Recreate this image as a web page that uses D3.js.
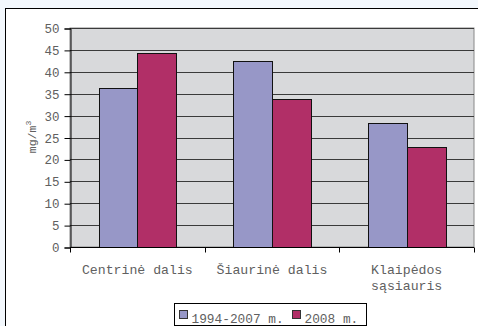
<!DOCTYPE html>
<html>
<head>
<meta charset="utf-8">
<script src="https://cdn.jsdelivr.net/npm/d3@7"></script>
<style>
  html, body { margin: 0; padding: 0; background: #f3f8fd; }
  svg { display: block; }
</style>
</head>
<body>
<script>
// Average concentrations (mg/m³) by lagoon part
const categories = [["Centrinė dalis"], ["Šiaurinė dalis"], ["Klaipėdos", "sąsiauris"]];
const seriesNames = ["1994-2007 m.", "2008 m."];
const values1994_2007 = [36.4, 42.4, 28.3];
const values2008 = [44.2, 33.9, 22.8];
const yTicks = [0, 5, 10, 15, 20, 25, 30, 35, 40, 45, 50];
const colors = ["#9797c7", "#b12f67"];

const MONO = "\"Liberation Mono\", \"Courier New\", \"DejaVu Sans Mono\", monospace";
const TEXT = "#606060";
const W = 478, H = 326;
const svg = d3.select("body").append("svg").attr("width", W).attr("height", H);

// white chart frame
svg.append("rect").attr("x", 5.5).attr("y", 8.5).attr("width", W + 10).attr("height", H + 10)
  .attr("fill", "#fff").attr("stroke", "#000").attr("stroke-width", 1);

const plot = { left: 70, right: 474, top: 28, bottom: 247 };

const x = d3.scaleBand().domain(d3.range(categories.length))
  .range([plot.left, plot.right]).paddingInner(0).paddingOuter(0);
const y = d3.scaleLinear().domain([0, 50]).range([plot.bottom, plot.top]);
const barW = x.bandwidth() * 0.288;
const sub = d3.scaleBand().domain([0, 1]).range([x.bandwidth() / 2 - barW, x.bandwidth() / 2 + barW]);

// plot background
svg.append("rect").attr("x", plot.left).attr("y", plot.top)
  .attr("width", plot.right - plot.left).attr("height", plot.bottom - plot.top)
  .attr("fill", "#d8d9db").attr("stroke", "#888").attr("stroke-width", 1);

// horizontal gridlines
svg.append("g").selectAll("line").data(yTicks.filter(d => d > 0)).join("line")
  .attr("x1", plot.left).attr("x2", plot.right)
  .attr("y1", d => Math.round(y(d)) + 0.5).attr("y2", d => Math.round(y(d)) + 0.5)
  .attr("stroke", "#3a3a3a").attr("stroke-width", 1);

// bars
const series = [values1994_2007, values2008];
series.forEach((vals, si) => {
  svg.append("g").selectAll("rect").data(vals).join("rect")
    .attr("x", (d, i) => Math.round(x(i) + sub(si)) + 0.5)
    .attr("y", d => Math.round(y(d)) + 0.5)
    .attr("width", Math.round(sub.bandwidth()))
    .attr("height", d => Math.round(y(0)) - Math.round(y(d)))
    .attr("fill", colors[si]).attr("stroke", "#111").attr("stroke-width", 1);
});

// y axis
const yAxis = d3.axisLeft(y).tickValues(yTicks).tickSize(6).tickPadding(5).tickFormat(d3.format("d"));
const gy = svg.append("g").attr("transform", `translate(${plot.left + 0.5},0.5)`).call(yAxis);
gy.attr("font-family", null).attr("font-size", null);
gy.select(".domain").attr("stroke", "#000");
gy.selectAll(".tick line").attr("stroke", "#000");
gy.selectAll("text").style("font-family", MONO).style("font-size", "12.5px").attr("fill", TEXT);

// x axis with ticks at category boundaries
const gx = svg.append("g").attr("transform", `translate(0,${plot.bottom + 0.5})`);
gx.append("line").attr("x1", plot.left).attr("x2", plot.right).attr("stroke", "#000");
gx.selectAll("line.b").data(d3.range(categories.length + 1)).join("line").attr("class", "b")
  .attr("x1", i => Math.round(plot.left + i * x.step()) + 0.5)
  .attr("x2", i => Math.round(plot.left + i * x.step()) + 0.5)
  .attr("y1", 0).attr("y2", 5).attr("stroke", "#000");

// category labels
const lbl = svg.append("g").selectAll("text").data(categories).join("text")
  .attr("text-anchor", "middle").style("font-family", MONO).style("font-size", "13.2px").attr("fill", TEXT)
  .attr("transform", (d, i) => `translate(${x(i) + x.bandwidth() / 2},274)`);
lbl.selectAll("tspan").data(d => d).join("tspan")
  .attr("x", 0).attr("dy", (d, i) => i === 0 ? 0 : 16).text(d => d);

// y axis title
const yt = svg.append("text").attr("transform", "translate(36,137) rotate(-90)")
  .attr("text-anchor", "middle").style("font-family", MONO).style("font-size", "11.5px").attr("fill", TEXT);
yt.append("tspan").text("mg/m");
yt.append("tspan").attr("dy", -5).style("font-size", "8px").text("3");

// legend
const leg = svg.append("g").attr("transform", "translate(174.5,303.5)");
leg.append("rect").attr("width", 192).attr("height", 22).attr("fill", "#fff").attr("stroke", "#000");
const legX = [5, 118];
seriesNames.forEach((name, i) => {
  leg.append("rect").attr("x", legX[i]).attr("y", 7).attr("width", 8).attr("height", 8)
    .attr("fill", colors[i]).attr("stroke", "#333");
  leg.append("text").attr("x", legX[i] + 12).attr("y", 19.5)
    .style("font-family", MONO).style("font-size", "12.8px").attr("fill", TEXT).text(name);
});
</script>
</body>
</html>
